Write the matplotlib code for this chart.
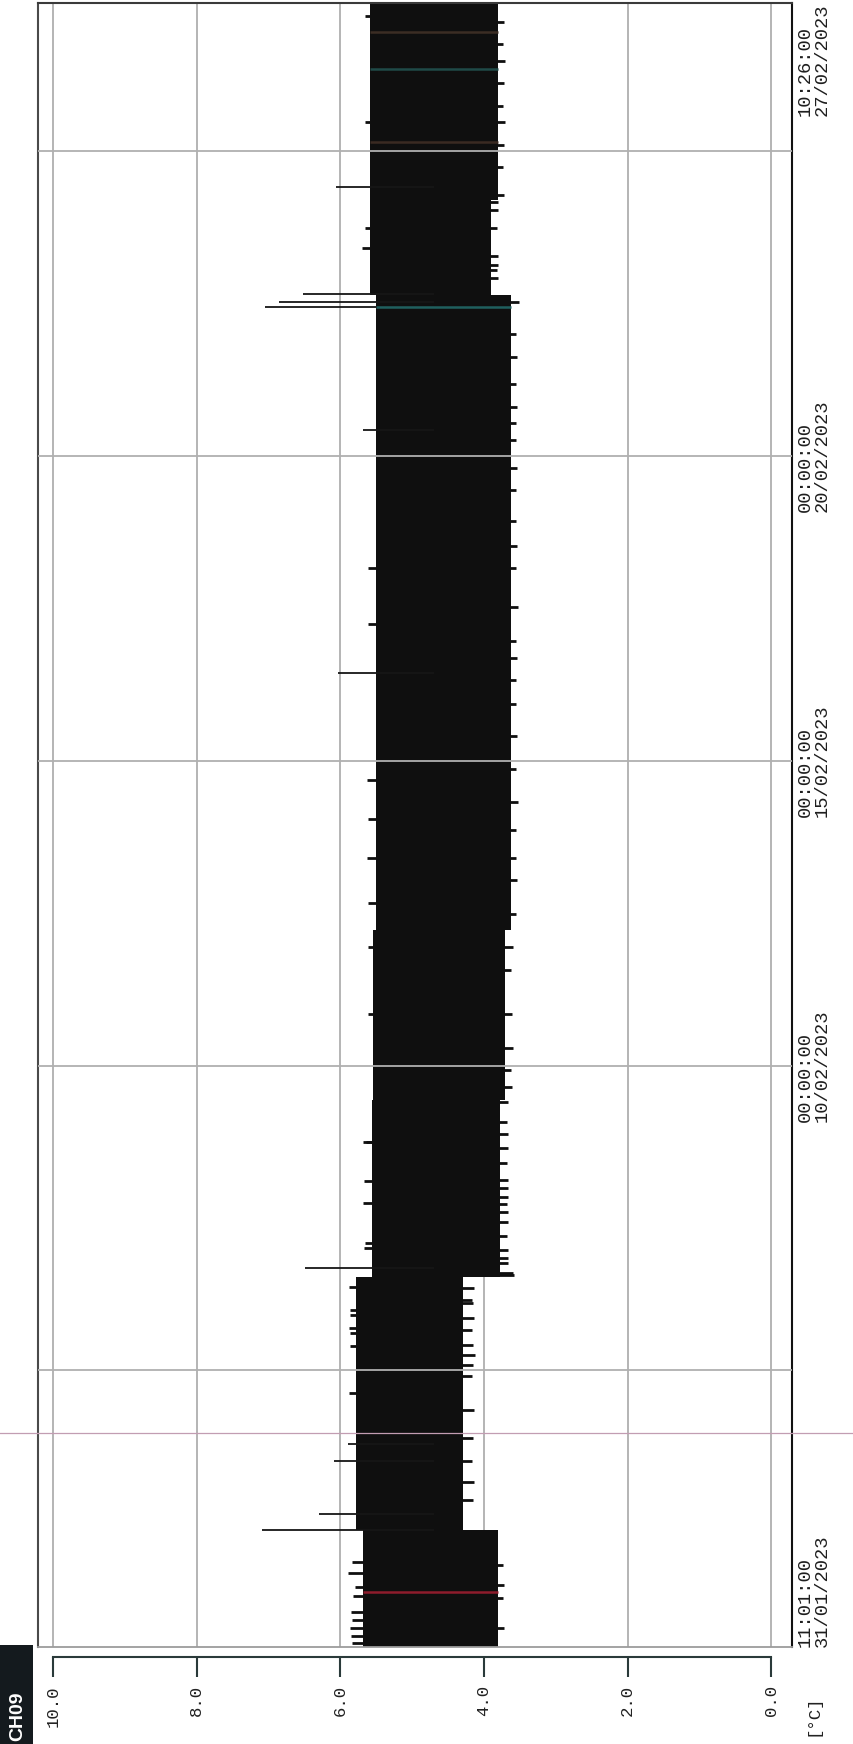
import matplotlib
matplotlib.use('Agg')
import matplotlib.pyplot as plt
import pandas as pd
from matplotlib.patches import Rectangle

# ---------------- data ----------------
start_time = pd.Timestamp('2023-01-31 11:01:00')
end_time = pd.Timestamp('2023-02-27 10:26:00')

# band segments (elapsed days from start) with envelope of the rapid cycling (deg C)
seg_start_days = [0.00, 1.92, 6.07, 8.98, 11.77, 22.19, 23.74]
seg_end_days = [1.92, 6.07, 8.98, 11.77, 22.19, 23.74, 26.976]
seg_high = [5.68, 5.78, 5.56, 5.54, 5.50, 5.58, 5.58]
seg_low = [3.80, 4.29, 3.77, 3.70, 3.62, 3.90, 3.80]

# isolated warm readings (spikes)
spike_days = [1.92, 2.18, 3.05, 3.33, 6.22, 15.98, 19.97, 22.20, 22.07, 21.99, 23.96]
spike_vals = [7.09, 6.30, 6.09, 5.89, 6.49, 6.03, 5.69, 6.52, 6.85, 7.05, 6.06]

# small warm excursions beyond the upper edge
hi_notch_days = [0.07, 0.18, 0.31, 0.44, 0.57, 0.84, 0.98, 1.21, 1.39,
                 4.17, 4.94, 5.15, 5.23, 5.45, 5.53, 5.91,
                 6.55, 6.63, 7.29, 7.65, 8.29, 8.28, 10.38, 11.48, 12.21, 12.94,
                 13.58, 14.22, 16.78, 17.70, 22.96, 23.28, 25.02, 26.76]
hi_notch_vals = [5.84, 5.85, 5.86, 5.84, 5.85, 5.83, 5.79, 5.89, 5.84,
                 5.88, 5.87, 5.86, 5.88, 5.86, 5.87, 5.88,
                 5.67, 5.66, 5.68, 5.67, 5.68, 5.64, 5.62, 5.61, 5.62, 5.63,
                 5.62, 5.63, 5.61, 5.62, 5.70, 5.66, 5.65, 5.65]

# small cold excursions beyond the lower edge
lo_notch_days = [0.31, 0.80, 1.02, 1.35,
                 2.42, 2.70, 3.06, 3.43, 3.89, 4.45, 4.63, 4.79, 4.96, 5.20, 5.40, 5.64, 5.69, 5.89,
                 6.10, 6.14, 6.30, 6.38, 6.51, 6.74, 6.97, 7.14, 7.27, 7.38, 7.53, 7.66, 7.94, 8.19, 8.42, 8.61, 8.94,
                 9.19, 9.47, 9.83, 10.38, 11.11, 11.48,
                 12.03, 12.58, 12.94, 13.40, 13.86, 14.41, 14.95, 15.47, 15.87, 16.23, 16.51, 17.06,
                 17.70, 18.06, 18.48, 18.98, 19.35, 19.80, 20.08, 20.35, 20.72, 21.17, 21.54, 22.07,
                 22.46, 22.60, 22.68, 22.83, 23.29, 23.58, 23.71,
                 23.83, 24.29, 24.65, 25.02, 25.29, 25.66, 26.02, 26.30, 26.66]
lo_notch_vals = [3.72, 3.73, 3.72, 3.74,
                 4.15, 4.14, 4.16, 4.15, 4.14, 4.16, 4.15, 4.13, 4.15, 4.16, 4.14, 4.15, 4.16, 4.14,
                 3.58, 3.59, 3.66, 3.67, 3.66, 3.68, 3.67, 3.66, 3.68, 3.67, 3.66, 3.67, 3.68, 3.66, 3.67, 3.68, 3.66,
                 3.61, 3.62, 3.60, 3.61, 3.62, 3.60,
                 3.55, 3.54, 3.56, 3.55, 3.53, 3.55, 3.54, 3.56, 3.55, 3.54, 3.55, 3.53,
                 3.55, 3.54, 3.56, 3.55, 3.54, 3.55, 3.56, 3.54, 3.55, 3.54, 3.55, 3.51,
                 3.80, 3.82, 3.81, 3.80, 3.82, 3.81, 3.80,
                 3.72, 3.73, 3.72, 3.71, 3.73, 3.72, 3.71, 3.73, 3.72]

# scanner colour streaks crossing the band (elapsed days, colour)
streak_days = [0.90, 21.99, 24.70, 25.90, 26.50]
streak_colors = ['#8e1c2c', '#1f5f5e', '#3a2a22', '#1f4a48', '#3b2d24']

temp_ticks = [0.0, 2.0, 4.0, 6.0, 8.0, 10.0]
grid_dates = ['2023-02-05', '2023-02-10', '2023-02-15', '2023-02-20', '2023-02-25']
label_dates = ['2023-02-10 00:00:00', '2023-02-15 00:00:00', '2023-02-20 00:00:00']
cursor_day = 3.51

# ---------------- drawing ----------------
W, H = 854, 1744
fig = plt.figure(figsize=(W / 100, H / 100), dpi=100)
fig.patch.set_facecolor('white')

ax_l, ax_r, ax_t, ax_b = 38, 792, 3, 1647
ax = fig.add_axes([ax_l / W, (H - ax_b) / H, (ax_r - ax_l) / W, (ax_b - ax_t) / H])

day = pd.Timedelta('1D')
total_days = (end_time - start_time) / day

band = '#0f0f0f'
for s, e, hi, lo in zip(seg_start_days, seg_end_days, seg_high, seg_low):
    ax.fill_betweenx([s, e], lo, hi, color=band, lw=0, zorder=2)

mid = 4.7
ax.hlines(hi_notch_days, mid, hi_notch_vals, color=band, lw=2.0, zorder=2)
ax.hlines(lo_notch_days, mid, lo_notch_vals, color=band, lw=2.0, zorder=2)
ax.hlines(spike_days, mid, spike_vals, color='#161616', lw=1.3, zorder=2)

def band_edges(d):
    for s, e, hi, lo in zip(seg_start_days, seg_end_days, seg_high, seg_low):
        if s <= d <= e:
            return lo, hi
    return seg_low[-1], seg_high[-1]

for d, c in zip(streak_days, streak_colors):
    lo, hi = band_edges(d)
    ax.hlines(d, lo, hi, color=c, lw=1.8, zorder=2.5)

# vertical grid (under the band)
for t in temp_ticks:
    ax.axvline(t, color='#a0a0a0', lw=1.1, zorder=1)
# horizontal grid (over the band)
for gd in grid_dates:
    ax.axhline((pd.Timestamp(gd) - start_time) / day, color='#b0b0b0', lw=1.3, zorder=3)
ax.axhline(0, color='#9c9c9c', lw=1.3, zorder=3, clip_on=False)

# cursor line spanning the whole sheet
ax.axhline(cursor_day, xmin=-0.06, xmax=1.09, color='#c29db2', lw=0.9, zorder=3, clip_on=False)

ax.set_xlim(10.21, -0.29)
ax.set_ylim(0, total_days)

for side, col in (('left', '#4a4a4a'), ('top', '#3a3a3a'), ('right', '#111111')):
    ax.spines[side].set_color(col)
    ax.spines[side].set_linewidth(1.5)
ax.spines['bottom'].set_position(('outward', 7.2))
ax.spines['bottom'].set_bounds(0, 10)
ax.spines['bottom'].set_color('#2a3a3a')
ax.spines['bottom'].set_linewidth(1.5)

mono = ['Liberation Mono', 'DejaVu Sans Mono']
ax.set_xticks(temp_ticks)
ax.set_xticklabels([f'{v:.1f}' for v in temp_ticks], rotation=90, family=mono,
                   fontsize=12.5, color='#222222')
ax.tick_params(axis='x', direction='out', length=14.4, width=1.5, pad=6, color='#2a3a3a')
ax.set_yticks([])

def date_label(ts, va):
    d = (ts - start_time) / day
    txt = ts.strftime('%H:%M:%S') + '\n' + ts.strftime('%d/%m/%Y')
    ax.annotate(txt, xy=(1.0, d), xycoords=('axes fraction', 'data'),
                xytext=(3.6, 0), textcoords='offset points', rotation=90,
                ha='left', va=va, multialignment='left', family=mono,
                fontsize=13.5, color='#1e1e1e', linespacing=1.0, annotation_clip=False)

date_label(start_time, 'bottom')
date_label(end_time, 'top')
for ld in label_dates:
    date_label(pd.Timestamp(ld), 'center')

fig.text(813 / W, (H - 1715) / H, '[°C]', rotation=90, ha='center', va='center',
         family=mono, fontsize=12.5, color='#222222')

# channel tag
fig.patches.append(Rectangle((0, 0), 33 / W, 99 / H, transform=fig.transFigure,
                             facecolor='#141a1e', edgecolor='none', zorder=5))
fig.text(18 / W, (H - 1716) / H, 'CH09', rotation=90, ha='center', va='center',
         color='white', fontsize=14, fontweight='bold', family=['Liberation Sans', 'DejaVu Sans'],
         zorder=6)
fig.text(1 / W, (H - 1650) / H, '◁', ha='left', va='center', fontsize=8, color='#777777')

fig.savefig('out.png', dpi=100, facecolor='white')
